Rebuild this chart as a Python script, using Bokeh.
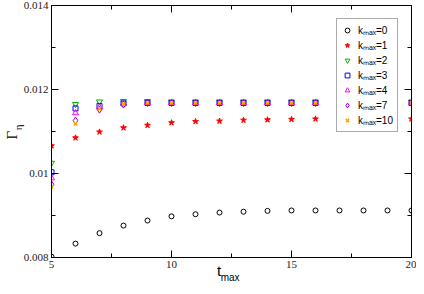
from bokeh.plotting import figure
from bokeh.models import FixedTicker, LinearAxis, Range1d
from bokeh.embed import file_html
from bokeh.resources import INLINE

t_max = [5, 6, 7, 8, 9, 10, 11, 12, 13, 14, 15, 16, 17, 18, 19, 20]

k0 = [0.00802, 0.00833, 0.00858, 0.00876, 0.00888, 0.00898, 0.00903, 0.00907,
      0.00909, 0.00911, 0.00912, 0.00912, 0.00912, 0.00912, 0.00912, 0.00912]
k1 = [0.01066, 0.01085, 0.01099, 0.01109, 0.01115, 0.01121, 0.01124, 0.01125,
      0.01127, 0.01128, 0.01129, 0.01130, 0.01130, 0.01130, 0.01130, 0.01130]
k2 = [0.01025, 0.01165, 0.01171, 0.01172, 0.01172, 0.01171, 0.01171, 0.01171,
      0.01171, 0.01171, 0.01171, 0.01171, 0.01171, 0.01171, 0.01171, 0.01171]
k3 = [0.01003, 0.01155, 0.01161, 0.01167, 0.01168, 0.01168, 0.01168, 0.01168,
      0.01168, 0.01168, 0.01168, 0.01168, 0.01168, 0.01168, 0.01168, 0.01168]
k4 = [0.00989, 0.01144, 0.01158, 0.01166, 0.01168, 0.01168, 0.01168, 0.01168,
      0.01168, 0.01168, 0.01168, 0.01168, 0.01168, 0.01168, 0.01168, 0.01168]
k7 = [0.00974, 0.01126, 0.01152, 0.01164, 0.01168, 0.01168, 0.01168, 0.01168,
      0.01168, 0.01168, 0.01168, 0.01168, 0.01168, 0.01168, 0.01168, 0.01168]
k10 = [0.00968, 0.01118, 0.01154, 0.01165, 0.01168, 0.01168, 0.01168, 0.01168,
       0.01168, 0.01168, 0.01168, 0.01168, 0.01168, 0.01168, 0.01168, 0.01168]

kmax_values = [0, 1, 2, 3, 4, 7, 10]
x_ticks = [5, 10, 15, 20]
x_minor = [7.5, 12.5, 17.5]
y_ticks = [0.008, 0.010, 0.012, 0.014]
y_minor = [0.009, 0.011, 0.013]
y_tick_labels = ["0.008", "0.01", "0.012", "0.014"]

NB = "\u00a0"

p = figure(width=416, height=286, output_backend="svg", toolbar_location=None,
           x_range=Range1d(5, 20), y_range=Range1d(0.008, 0.014),
           min_border_left=48, min_border_right=5, min_border_top=5,
           min_border_bottom=29)
p.grid.visible = False
p.outline_line_color = "black"
p.background_fill_color = "white"
p.border_fill_color = "white"

def style_axis(ax, show_labels):
    ax.axis_line_color = "black"
    ax.major_tick_line_color = "black"
    ax.minor_tick_line_color = "black"
    ax.major_tick_in = 7
    ax.major_tick_out = 0
    ax.minor_tick_in = 4
    ax.minor_tick_out = 0
    ax.major_label_text_font = "Liberation Serif"
    ax.major_label_text_font_size = "11px"
    ax.major_label_text_color = "#222222"
    ax.major_label_standoff = 3 if show_labels else 0

def title_axis(ax, text, font, size, standoff):
    ax.ticker = FixedTicker(ticks=[])
    ax.axis_line_color = None
    ax.major_tick_line_color = None
    ax.minor_tick_line_color = None
    ax.major_tick_out = 0
    ax.minor_tick_out = 0
    ax.major_label_standoff = 0
    ax.axis_label = text
    ax.axis_label_text_font = font
    ax.axis_label_text_font_size = size
    ax.axis_label_text_font_style = "normal"
    ax.axis_label_text_color = "black"
    ax.axis_label_standoff = standoff

xaxis = p.xaxis[0]
yaxis = p.yaxis[0]
xaxis.ticker = FixedTicker(ticks=x_ticks, minor_ticks=x_minor)
yaxis.ticker = FixedTicker(ticks=y_ticks, minor_ticks=y_minor)
yaxis.major_label_overrides = {v: s for v, s in zip(y_ticks, y_tick_labels)}
style_axis(xaxis, True)
style_axis(yaxis, True)

# y title: Gamma with subscript eta (eta on the inner axis, Gamma on an outer one)
yaxis.axis_label = NB * 3 + "\u03b7"
yaxis.axis_label_text_font = "Liberation Serif"
yaxis.axis_label_text_font_size = "11px"
yaxis.axis_label_text_font_style = "normal"
yaxis.axis_label_text_color = "black"
yaxis.axis_label_standoff = -3
gamma_axis = LinearAxis()
title_axis(gamma_axis, "\u0393" + NB * 2, "Liberation Serif", "15px", -11)
p.add_layout(gamma_axis, "left")

# x title: t with subscript max
xaxis.axis_label = "t" + NB * 6
xaxis.axis_label_text_font = "Liberation Sans"
xaxis.axis_label_text_font_size = "15px"
xaxis.axis_label_text_font_style = "normal"
xaxis.axis_label_text_color = "black"
xaxis.axis_label_standoff = -9
max_axis = LinearAxis()
title_axis(max_axis, "max" + NB, "Liberation Sans", "10px", -10)
p.add_layout(max_axis, "below")

top = LinearAxis(ticker=FixedTicker(ticks=x_ticks, minor_ticks=x_minor))
right = LinearAxis(ticker=FixedTicker(ticks=y_ticks, minor_ticks=y_minor))
style_axis(top, False)
style_axis(right, False)
top.major_label_overrides = {v: "" for v in x_ticks}
right.major_label_overrides = {v: "" for v in y_ticks}
p.add_layout(top, "above")
p.add_layout(right, "right")

series = [k0, k1, k2, k3, k4, k7, k10]
styles = [
    dict(marker="circle", size=5, line_color="black", fill_color=None, line_width=1),
    dict(marker="star", size=6, line_color="#ff0000", fill_color="#ff0000", line_width=1),
    dict(marker="inverted_triangle", size=6, line_color="#00b000", fill_color=None, line_width=1),
    dict(marker="square", size=5, line_color="#0000ff", fill_color=None, line_width=1),
    dict(marker="triangle", size=6, line_color="#ff00ff", fill_color=None, line_width=1),
    dict(marker="diamond", size=7, line_color="#9400d3", fill_color=None, line_width=1),
    dict(marker="x", size=4.5, line_color="#ffa500", line_width=1.5),
]
for k, ys, st in zip(kmax_values, series, styles):
    p.scatter(t_max, ys, legend_label=f"k\u2098\u2090\u2093={k}", **st)

lg = p.legend[0]
lg.location = "top_right"
lg.margin = 13
lg.padding = 4
lg.spacing = 1
lg.glyph_height = 14
lg.glyph_width = 12
lg.label_standoff = 5
lg.label_height = 14
lg.label_width = 10
lg.label_text_font = "Liberation Sans"
lg.label_text_font_size = "10px"
lg.label_text_color = "black"
lg.border_line_color = "#555555"
lg.border_line_width = 1
lg.background_fill_color = "white"
lg.background_fill_alpha = 1.0

open("out.html", "w").write(file_html(p, INLINE))
